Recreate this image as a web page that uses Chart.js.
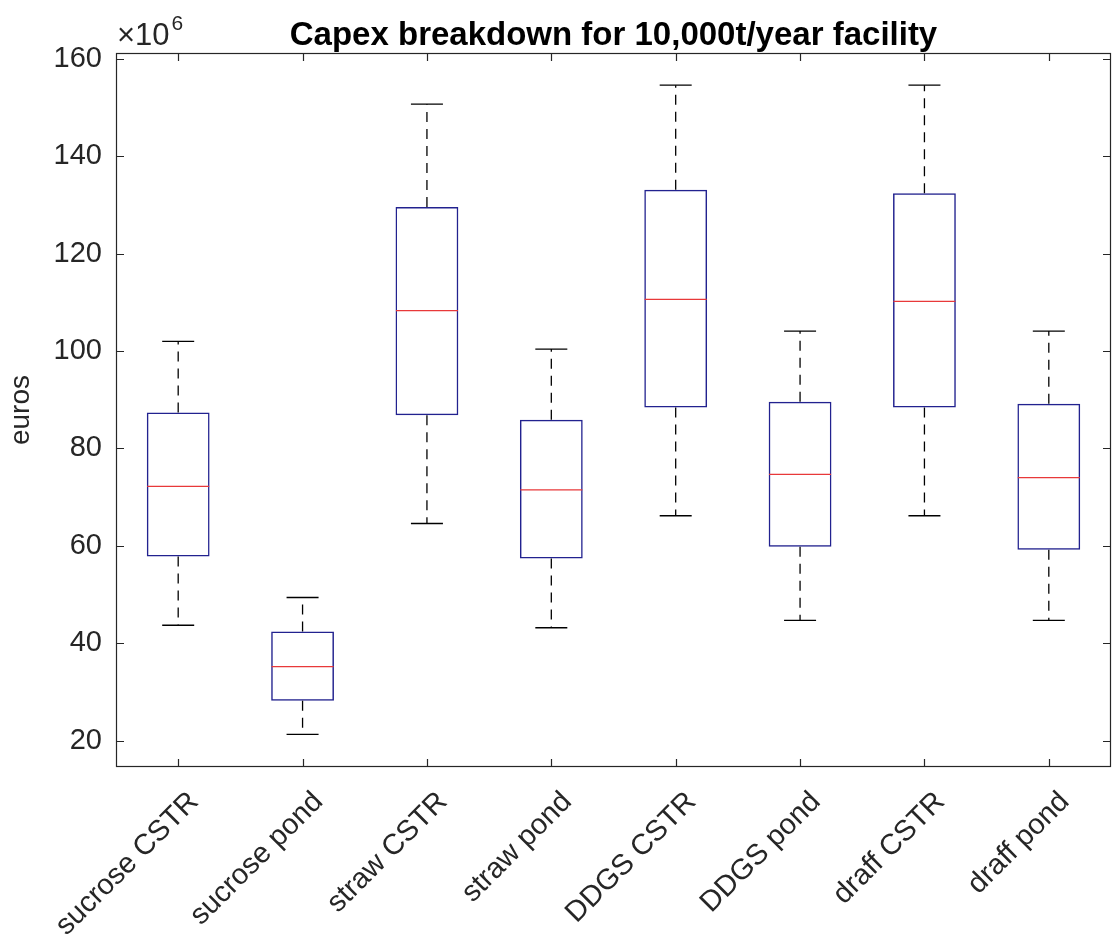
<!DOCTYPE html>
<html lang="en">
  <head>
    <meta charset="UTF-8" />
    <title>Capex breakdown for 10,000t/year facility</title>
    <script src="https://cdn.jsdelivr.net/npm/chart.js"></script>
    <style>
      body {
        margin: 0;
        background: #ffffff;
      }
    </style>
  </head>
  <body>
    <canvas id="capexChart" width="1113" height="945"></canvas>

    <script>
      // Box plot statistics, in units of 10^6 euros
      const categories = [
        "sucrose CSTR",
        "sucrose pond",
        "straw CSTR",
        "straw pond",
        "DDGS CSTR",
        "DDGS pond",
        "draff CSTR",
        "draff pond",
      ];
      const whiskerLow = [43.7, 21.3, 64.6, 43.2, 66.2, 44.7, 66.2, 44.7];
      const q1 = [57.8, 28.2, 86.8, 57.4, 88.4, 59.8, 88.4, 59.2];
      const medians = [72.2, 35.2, 108.3, 71.5, 110.6, 74.7, 110.2, 74.0];
      const q3 = [87.4, 42.4, 129.6, 85.9, 133.1, 89.6, 132.4, 89.2];
      const whiskerHigh = [102.0, 49.4, 150.7, 100.4, 154.6, 104.1, 154.6, 104.1];
      const yTicks = [20, 40, 60, 80, 100, 120, 140, 160];
      const yMin = 14.6;
      const yMax = 161.2;

      const fontFamily = "'Liberation Sans', Arial, Helvetica, sans-serif";
      const axisColor = "#262626";

      // whisker segments: q3 -> high, q1 -> low, separated by gaps
      const whiskerPoints = [];
      categories.forEach((c, i) => {
        whiskerPoints.push({ x: c, y: q3[i] }, { x: c, y: whiskerHigh[i] }, { x: c, y: null });
        whiskerPoints.push({ x: c, y: q1[i] }, { x: c, y: whiskerLow[i] }, { x: c, y: null });
      });

      // MATLAB-like axes: full box, inward ticks, exponent label
      const axesBox = {
        id: "axesBox",
        afterDatasetsDraw(chart) {
          const { ctx, chartArea: a, scales } = chart;
          const x = scales.x;
          const y = scales.y;
          ctx.save();
          ctx.strokeStyle = axisColor;
          ctx.lineWidth = 1.2;
          ctx.strokeRect(a.left + 0.5, a.top + 0.5, a.right - a.left - 1, a.bottom - a.top - 1);
          ctx.beginPath();
          x.ticks.forEach((t, i) => {
            const px = Math.round(x.getPixelForTick(i)) + 0.5;
            ctx.moveTo(px, a.bottom);
            ctx.lineTo(px, a.bottom - 8);
            ctx.moveTo(px, a.top);
            ctx.lineTo(px, a.top + 8);
          });
          y.ticks.forEach((t, i) => {
            const py = Math.round(y.getPixelForTick(i)) + 0.5;
            ctx.moveTo(a.left, py);
            ctx.lineTo(a.left + 8, py);
            ctx.moveTo(a.right, py);
            ctx.lineTo(a.right - 8, py);
          });
          ctx.stroke();

          ctx.fillStyle = axisColor;
          ctx.textBaseline = "alphabetic";
          ctx.font = "31px " + fontFamily;
          ctx.fillText("\u00d710", a.left + 1, 45);
          const w = ctx.measureText("\u00d710").width;
          ctx.font = "21px " + fontFamily;
          ctx.fillText("6", a.left + w + 3, 30);
          ctx.restore();
        },
      };

      const chart = new Chart(document.getElementById("capexChart"), {
        data: {
          labels: categories,
          datasets: [
            {
              type: "bar",
              data: q1.map((v, i) => [v, q3[i]]),
              backgroundColor: "rgba(0,0,0,0)",
              borderColor: "#22228f",
              borderWidth: 1.5,
              borderSkipped: false,
              barPercentage: 0.505,
              categoryPercentage: 1,
              order: 4,
            },
            {
              type: "line",
              data: whiskerPoints,
              borderColor: "#000000",
              borderWidth: 1.3,
              borderDash: [10, 7],
              pointRadius: 0,
              spanGaps: false,
              order: 3,
            },
            {
              type: "line",
              data: whiskerHigh,
              showLine: false,
              pointStyle: "line",
              pointRadius: 16,
              pointBorderColor: "#000000",
              pointBorderWidth: 1.4,
              order: 2,
            },
            {
              type: "line",
              data: whiskerLow,
              showLine: false,
              pointStyle: "line",
              pointRadius: 16,
              pointBorderColor: "#000000",
              pointBorderWidth: 1.4,
              order: 2,
            },
            {
              type: "line",
              data: medians,
              showLine: false,
              pointStyle: "line",
              pointRadius: 31,
              pointBorderColor: "#e8383a",
              pointBorderWidth: 1.3,
              order: 1,
            },
          ],
        },
        options: {
          responsive: false,
          animation: false,
          devicePixelRatio: 1,
          layout: { autoPadding: false, padding: { left: 0, right: 2, top: 0, bottom: 0 } },
          plugins: {
            legend: { display: false },
            tooltip: { enabled: false },
            title: {
              display: true,
              text: "Capex breakdown for 10,000t/year facility",
              color: "#000000",
              fullSize: false,
              font: { family: fontFamily, size: 33, weight: "bold", lineHeight: 1 },
              padding: { top: 19, bottom: 1 },
            },
          },
          scales: {
            x: {
              type: "category",
              offset: true,
              grid: { display: false, drawTicks: false },
              border: { display: false },
              ticks: {
                autoSkip: false,
                minRotation: 45,
                maxRotation: 45,
                padding: 18,
                labelOffset: 16,
                color: axisColor,
                font: { family: fontFamily, size: 29 },
              },
              afterFit(s) {
                s.height = 178;
                s.paddingLeft = 0;
                s.paddingRight = 0;
              },
            },
            y: {
              type: "linear",
              min: yMin,
              max: yMax,
              grid: { display: false, drawTicks: false },
              border: { display: false },
              afterBuildTicks(s) {
                s.ticks = yTicks.map((v) => ({ value: v }));
              },
              ticks: {
                padding: 14,
                color: axisColor,
                font: { family: fontFamily, size: 29 },
              },
              title: {
                display: true,
                text: "euros",
                color: axisColor,
                font: { family: fontFamily, size: 28 },
                padding: { top: 4, bottom: 0 },
              },
              afterFit(s) {
                s.width = 116;
                s.paddingTop = 0;
                s.paddingBottom = 0;
              },
            },
          },
        },
        plugins: [axesBox],
      });
    </script>
  </body>
</html>
